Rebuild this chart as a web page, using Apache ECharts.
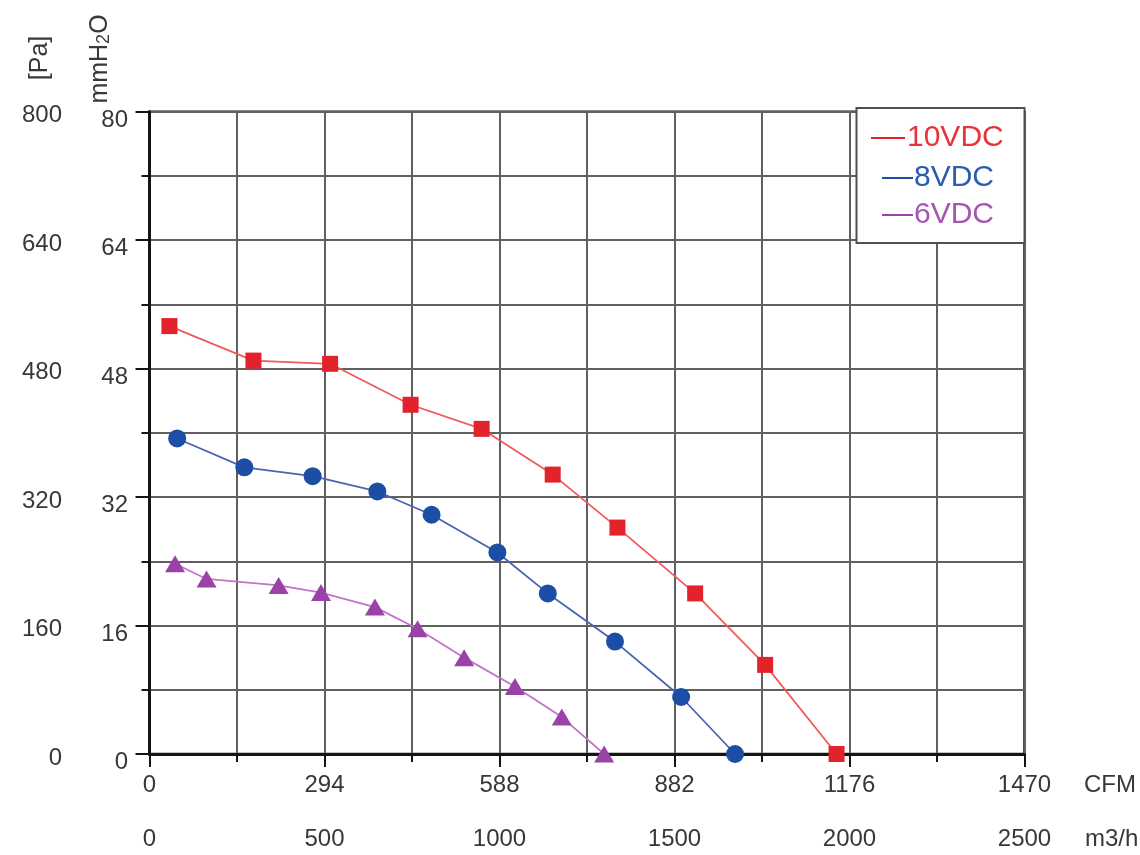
<!DOCTYPE html>
<html>
<head>
<meta charset="utf-8">
<style>
  html, body { margin: 0; padding: 0; background: #ffffff; }
  #chart { width: 1140px; height: 855px; }
</style>
<script src="https://cdn.jsdelivr.net/npm/echarts@6/dist/echarts.min.js"></script>
</head>
<body>
<div id="chart"></div>
<script>
// ---- data (flow in m3/h, static pressure in Pa) ----
const seriesNames = ['10VDC', '8VDC', '6VDC'];
const flow10 = [57, 297, 516, 746, 949, 1152, 1337, 1559, 1759, 1963];
const pres10 = [533, 490, 486, 435, 405, 348, 282, 200, 111, 0];
const flow8  = [79, 271, 466, 651, 806, 994, 1138, 1330, 1519, 1673];
const pres8  = [393, 357, 346, 327, 298, 251, 200, 140, 71, 0];
const flow6  = [73, 163, 369, 490, 644, 766, 899, 1044, 1178, 1299];
const pres6  = [237, 218, 210, 201, 183, 156, 120, 84, 46, 0];

// ---- tick labels ----
const cfmLabels  = ['0', '294', '588', '882', '1176', '1470'];
const m3hLabels  = ['0', '500', '1000', '1500', '2000', '2500'];
const paLabels   = ['0', '160', '320', '480', '640', '800'];
const mmLabels   = ['0', '16', '32', '48', '64', '80'];

const FONT = "'Liberation Sans', Arial, Helvetica, sans-serif";
const TXT = '#383838';
const colors = {
  red:    { mark: '#e2232b', line: '#f05a5e', text: '#e8333b' },
  blue:   { mark: '#1c4ea6', line: '#4864b2', text: '#2b5cae' },
  purple: { mark: '#9a42a8', line: '#c274c8', text: '#a556b3' }
};

function zip(a, b) { return a.map((v, i) => [v, b[i]]); }

const chart = echarts.init(document.getElementById('chart'), null, { renderer: 'canvas' });

const axisBlack = '#151515';
const gridGray = '#606060';

const option = {
  backgroundColor: '#ffffff',
  animation: false,
  grid: {
    left: 149.5, right: 115.5, top: 111.7, bottom: 101,
    show: true, borderColor: axisBlack, borderWidth: 2.5, backgroundColor: 'transparent'
  },
  xAxis: [
    {
      type: 'value', min: 0, max: 2500, interval: 250, position: 'bottom',
      axisLine: { show: true, onZero: false, lineStyle: { color: axisBlack, width: 3 } },
      axisTick: { show: true, length: 8, lineStyle: { color: axisBlack, width: 2 } },
      axisLabel: { show: false },
      splitLine: { show: true, lineStyle: { color: gridGray, width: 2 } }
    },
    {
      type: 'value', min: 0, max: 2500, interval: 500, position: 'bottom',
      axisLine: { show: false, onZero: false },
      axisTick: { show: true, length: 13, lineStyle: { color: axisBlack, width: 2 } },
      axisLabel: {
        show: true, margin: 19, fontSize: 24, fontFamily: FONT, color: TXT,
        formatter: v => cfmLabels[Math.round(v / 500)]
      },
      splitLine: { show: false }
    },
    {
      type: 'value', min: 0, max: 2500, interval: 500, position: 'bottom',
      axisLine: { show: false, onZero: false },
      axisTick: { show: false },
      axisLabel: {
        show: true, margin: 73, fontSize: 24, fontFamily: FONT, color: TXT,
        formatter: v => m3hLabels[Math.round(v / 500)]
      },
      splitLine: { show: false }
    }
  ],
  yAxis: [
    {
      type: 'value', min: 0, max: 800, interval: 80, position: 'left',
      axisLine: { show: true, onZero: false, lineStyle: { color: axisBlack, width: 3 } },
      axisTick: { show: true, length: 8, lineStyle: { color: axisBlack, width: 2 } },
      axisLabel: { show: false },
      splitLine: { show: true, lineStyle: { color: gridGray, width: 2 } }
    },
    {
      type: 'value', min: 0, max: 800, interval: 160, position: 'left',
      axisLine: { show: false, onZero: false },
      axisTick: { show: true, length: 14, lineStyle: { color: axisBlack, width: 2 } },
      axisLabel: {
        show: true, margin: 87.5, fontSize: 24, fontFamily: FONT, color: TXT,
        verticalAlign: 'top', lineHeight: 8,
        formatter: v => paLabels[Math.round(v / 160)]
      },
      splitLine: { show: false }
    },
    {
      type: 'value', min: 0, max: 80, interval: 16, position: 'left',
      axisLine: { show: false, onZero: false },
      axisTick: { show: false },
      axisLabel: {
        show: true, margin: 21.5, fontSize: 24, fontFamily: FONT, color: TXT,
        verticalAlign: 'top', lineHeight: 17,
        formatter: v => mmLabels[Math.round(v / 16)]
      },
      splitLine: { show: false }
    }
  ],
  legend: [
    {
      data: [seriesNames[0]], left: 871, top: 123, padding: 0, z: 6,
      icon: 'rect', itemWidth: 34, itemHeight: 2,
      textStyle: { color: colors.red.text, fontSize: 30, fontFamily: FONT, padding: [0, 0, 0, -3] }
    },
    {
      data: [seriesNames[1]], left: 882, top: 163, padding: 0, z: 6,
      icon: 'rect', itemWidth: 31, itemHeight: 2,
      textStyle: { color: colors.blue.text, fontSize: 30, fontFamily: FONT, padding: [0, 0, 0, -4] }
    },
    {
      data: [seriesNames[2]], left: 882, top: 200, padding: 0, z: 6,
      icon: 'rect', itemWidth: 31, itemHeight: 2,
      textStyle: { color: colors.purple.text, fontSize: 30, fontFamily: FONT, padding: [0, 0, 0, -4] }
    }
  ],
  graphic: [
    {
      type: 'rect', z: 5,
      shape: { x: 856.5, y: 108, width: 168, height: 135 },
      style: { fill: '#ffffff', stroke: '#505050', lineWidth: 2 }
    },
    {
      type: 'text', x: 1084, y: 785, z: 5,
      style: { text: 'CFM', fill: TXT, font: '24px ' + FONT, align: 'left', verticalAlign: 'middle' }
    },
    {
      type: 'text', x: 1085, y: 839, z: 5,
      style: { text: 'm3/h', fill: TXT, font: '24px ' + FONT, align: 'left', verticalAlign: 'middle' }
    },
    {
      type: 'text', x: 40, y: 58, rotation: Math.PI / 2, z: 5,
      style: { text: '[Pa]', fill: TXT, font: '25px ' + FONT, align: 'center', verticalAlign: 'middle' }
    },
    {
      type: 'text', x: 98, y: 59, rotation: Math.PI / 2, z: 5,
      style: {
        text: '{a|mmH}{b|2}{a|O}', fill: TXT, align: 'center', verticalAlign: 'middle',
        rich: {
          a: { fontSize: 25, fontFamily: FONT, fill: TXT, lineHeight: 30, verticalAlign: 'bottom' },
          b: { fontSize: 18, fontFamily: FONT, fill: TXT, lineHeight: 30, verticalAlign: 'bottom', padding: [0, 0, 0, 0] }
        }
      }
    }
  ],
  series: [
    {
      name: seriesNames[0], type: 'line', xAxisIndex: 0, yAxisIndex: 0,
      data: zip(flow10, pres10),
      symbol: 'rect', symbolSize: 16, z: 4,
      itemStyle: { color: colors.red.mark },
      lineStyle: { color: colors.red.line, width: 1.8 }
    },
    {
      name: seriesNames[1], type: 'line', xAxisIndex: 0, yAxisIndex: 0,
      data: zip(flow8, pres8),
      symbol: 'circle', symbolSize: 18, z: 4,
      itemStyle: { color: colors.blue.mark },
      lineStyle: { color: colors.blue.line, width: 1.8 }
    },
    {
      name: seriesNames[2], type: 'line', xAxisIndex: 0, yAxisIndex: 0,
      data: zip(flow6, pres6),
      symbol: 'triangle', symbolSize: [20, 17], z: 4,
      itemStyle: { color: colors.purple.mark },
      lineStyle: { color: colors.purple.line, width: 1.8 }
    }
  ]
};

chart.setOption(option);
</script>
</body>
</html>
